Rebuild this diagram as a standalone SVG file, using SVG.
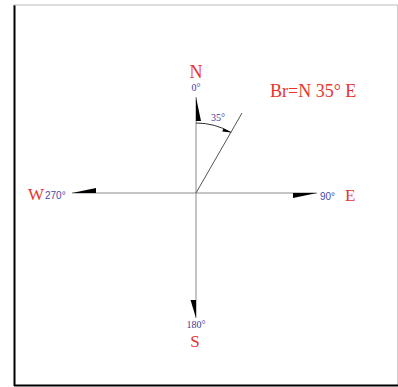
<svg xmlns="http://www.w3.org/2000/svg" width="398" height="387" viewBox="0 0 398 387">
<style>
.axis{stroke:#8a8a8a;stroke-width:1;fill:none}
.head{fill:#000;stroke:none}
.dir{font-family:"Liberation Serif",serif;fill:#e8342c}
.deg{font-family:"Liberation Serif",serif;font-size:10px;fill:#3c3c9c}
.degs{font-family:"Liberation Sans",sans-serif;font-size:10px;fill:#4a4aa8}
</style>
<rect x="0" y="0" width="398" height="387" fill="#fff"/>
<g id="frame">
<line x1="14.5" y1="5" x2="14.5" y2="386" stroke="#000" stroke-width="2"/>
<line x1="14" y1="5" x2="398" y2="5" stroke="#bbb" stroke-width="1"/>
<line x1="397.5" y1="5" x2="397.5" y2="386" stroke="#ccc" stroke-width="1"/>
<line x1="14" y1="385.5" x2="398" y2="385.5" stroke="#000" stroke-width="2"/>
</g>
<g id="connectors">
<line class="axis" x1="196" y1="97" x2="196" y2="318"/>
<line class="axis" x1="72" y1="193" x2="317" y2="193"/>
<line x1="196" y1="193" x2="242" y2="113" stroke="#555" stroke-width="1"/>
<path d="M196,123 A70,70 0 0 1 231,132.4" stroke="#333" stroke-width="1" fill="none"/>
<polygon class="head" points="231.5,132.6 223.4,128.6 222.3,131.6"/>
<polygon class="head" points="196,97 196,121 201,121"/>
<polygon class="head" points="317,193 293,193 293,198"/>
<polygon class="head" points="196,318 196,300 190.5,300"/>
<polygon class="head" points="72,193 96,193 96,188"/>
</g>
<g id="north">
<text class="dir" x="196" y="78" font-size="18" text-anchor="middle">N</text>
<text class="deg" x="196" y="91" text-anchor="middle">0°</text>
</g>
<g id="east">
<text class="degs" x="320" y="200">90°</text>
<text class="dir" x="345" y="201" font-size="17">E</text>
</g>
<g id="south">
<text class="deg" x="196" y="328" text-anchor="middle">180°</text>
<text class="dir" x="195" y="347" font-size="17" text-anchor="middle">S</text>
</g>
<g id="west">
<text class="dir" x="28" y="200" font-size="17">W</text>
<text class="degs" x="45" y="199">270°</text>
</g>
<g id="angle">
<text class="deg" x="211" y="121">35°</text>
</g>
<g id="bearing">
<text class="dir" x="270" y="97" font-size="18">Br=N 35° E</text>
</g>
</svg>
